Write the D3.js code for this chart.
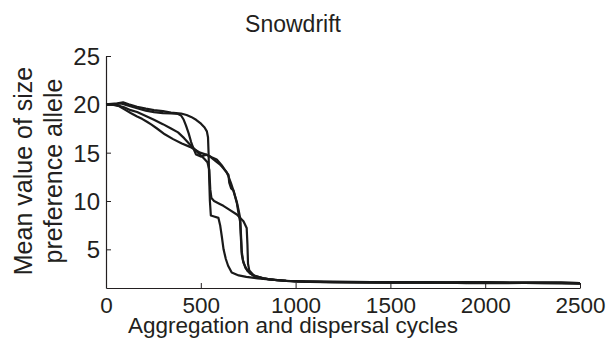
<!DOCTYPE html>
<html>
<head>
<meta charset="utf-8">
<script src="https://cdn.jsdelivr.net/npm/d3@7"></script>
<style>
  html, body { margin: 0; padding: 0; background: #fff; }
  svg { display: block; }
  text { font-family: "Liberation Sans", Arial, Helvetica, sans-serif; fill: #231f20; }
</style>
</head>
<body>
<svg id="chart" width="612" height="344"></svg>
<script>
// Mean size-preference allele over aggregation/dispersal cycles, four replicate runs
const runA = [[0,20.0],[30,20.05],[60,20.1],[90,20.2],[120,20.0],[164,19.75],[210,19.55],[253,19.4],[300,19.3],[343,19.15],[396,19.05],[425,18.9],[449,18.7],[475,18.4],[501,18.0],[520,17.6],[532,17.2],[538,16.6],[541,15.0],[544,12.5],[548,10.0],[553,8.5],[570,8.4],[593,8.25],[602,7.5],[611,6.3],[620,5.0],[632,4.0],[644,3.3],[663,2.6],[700,2.3],[740,2.15],[800,2.0],[860,1.9],[950,1.75],[1050,1.7],[1200,1.65],[1400,1.6],[1600,1.62],[1800,1.55],[2000,1.6],[2200,1.55],[2400,1.58],[2500,1.5]];
const runB = [[0,20.0],[40,20.0],[80,20.1],[110,19.9],[164,19.6],[210,19.35],[253,19.2],[300,19.1],[343,19.05],[380,19.0],[396,18.85],[410,18.4],[422,17.8],[436,17.0],[449,16.1],[462,15.4],[475,14.8],[500,14.6],[531,14.8],[560,14.5],[584,14.3],[610,13.7],[628,13.2],[646,12.7],[650,11.9],[660,11.3],[672,11.1],[690,9.8],[700,8.6],[707,7.9],[712,6.0],[716,4.5],[725,3.6],[745,2.8],[775,2.3],[830,2.0],[900,1.8],[1000,1.65],[1150,1.6],[1300,1.58],[1500,1.55],[1700,1.6],[1900,1.5],[2100,1.55],[2300,1.5],[2500,1.48]];
const runC = [[0,20.0],[50,19.95],[95,19.7],[130,19.4],[164,19.2],[210,18.8],[253,18.4],[300,17.95],[343,17.5],[380,17.1],[412,16.5],[440,15.9],[465,15.4],[490,14.9],[517,14.4],[535,14.0],[545,13.2],[550,11.2],[556,10.3],[570,10.0],[600,9.7],[619,9.5],[650,9.1],[690,8.6],[725,7.9],[742,7.2],[746,5.5],[749,3.5],[756,2.8],[780,2.3],[830,2.0],[900,1.8],[1000,1.7],[1150,1.62],[1300,1.6],[1500,1.58],[1700,1.55],[1900,1.6],[2100,1.55],[2300,1.55],[2500,1.5]];
const runD = [[0,20.0],[40,19.95],[70,19.8],[95,19.5],[130,19.1],[164,18.75],[190,18.5],[216,18.2],[240,17.9],[269,17.5],[310,16.9],[354,16.4],[400,15.95],[443,15.6],[470,15.3],[496,15.0],[520,14.85],[549,14.6],[580,14.1],[600,13.8],[618,13.4],[635,13.0],[645,12.6],[660,11.8],[675,10.9],[690,9.9],[700,9.0],[708,8.2],[712,6.5],[716,4.8],[722,3.9],[735,3.1],[760,2.5],[800,2.1],[860,1.9],[950,1.75],[1050,1.65],[1200,1.6],[1400,1.58],[1600,1.55],[1800,1.55],[2000,1.5],[2200,1.52],[2400,1.5],[2500,1.45]];
const runs = [runA, runB, runC, runD];

const xTicks = [0, 500, 1000, 1500, 2000, 2500];
const yTicks = [5, 10, 15, 20, 25];
const titleText = "Snowdrift";
const xLabel = "Aggregation and dispersal cycles";
const yLabelLines = ["Mean value of size", "preference allele"];

const svg = d3.select("#chart");
const x = d3.scaleLinear().domain([0, 2500]).range([106, 580]);
const y = d3.scaleLinear().domain([1, 25]).range([288, 56]);
const ink = "#231f20";

// axes with inward ticks
const xAxis = svg.append("g").attr("transform", `translate(0,${y(1)})`)
  .call(d3.axisBottom(x).tickValues(xTicks).tickSizeInner(-5).tickSizeOuter(0).tickPadding(9).tickFormat(d3.format("d")));
const yAxis = svg.append("g").attr("transform", `translate(${x(0)},0)`)
  .call(d3.axisLeft(y).tickValues(yTicks).tickSizeInner(-5).tickSizeOuter(0).tickPadding(6).tickFormat(d3.format("d")));
[xAxis, yAxis].forEach(g => {
  g.selectAll(".domain").attr("stroke", ink).attr("stroke-width", 1.2);
  g.selectAll(".tick line").attr("stroke", ink).attr("stroke-width", 1);
  g.selectAll(".tick text").attr("fill", ink)
    .style("font-family", "'Liberation Sans', Arial, sans-serif");
});
xAxis.selectAll(".tick text").style("font-size", "22.5px");
yAxis.selectAll(".tick text").style("font-size", "24px").attr("dy", "0.36em");

// replicate trajectories
const line = d3.line().x(d => x(d[0])).y(d => y(d[1]));
svg.append("g").selectAll("path").data(runs).join("path")
  .attr("d", line)
  .attr("fill", "none")
  .attr("stroke", "#1a1a1a")
  .attr("stroke-width", 2.2)
  .attr("stroke-linejoin", "round");

// titles
svg.append("text").attr("x", 293).attr("y", 32).attr("text-anchor", "middle")
  .style("font-size", "23px").text(titleText);
svg.append("text").attr("x", 293).attr("y", 333).attr("text-anchor", "middle")
  .style("font-size", "22.5px").text(xLabel);
const yl = svg.append("text").attr("transform", `translate(0,171) rotate(-90)`)
  .attr("text-anchor", "middle").style("font-size", "25px");
yl.selectAll("tspan").data(yLabelLines).join("tspan")
  .attr("x", 0).attr("y", (d, i) => 32 + i * 30).text(d => d);
</script>
</body>
</html>
